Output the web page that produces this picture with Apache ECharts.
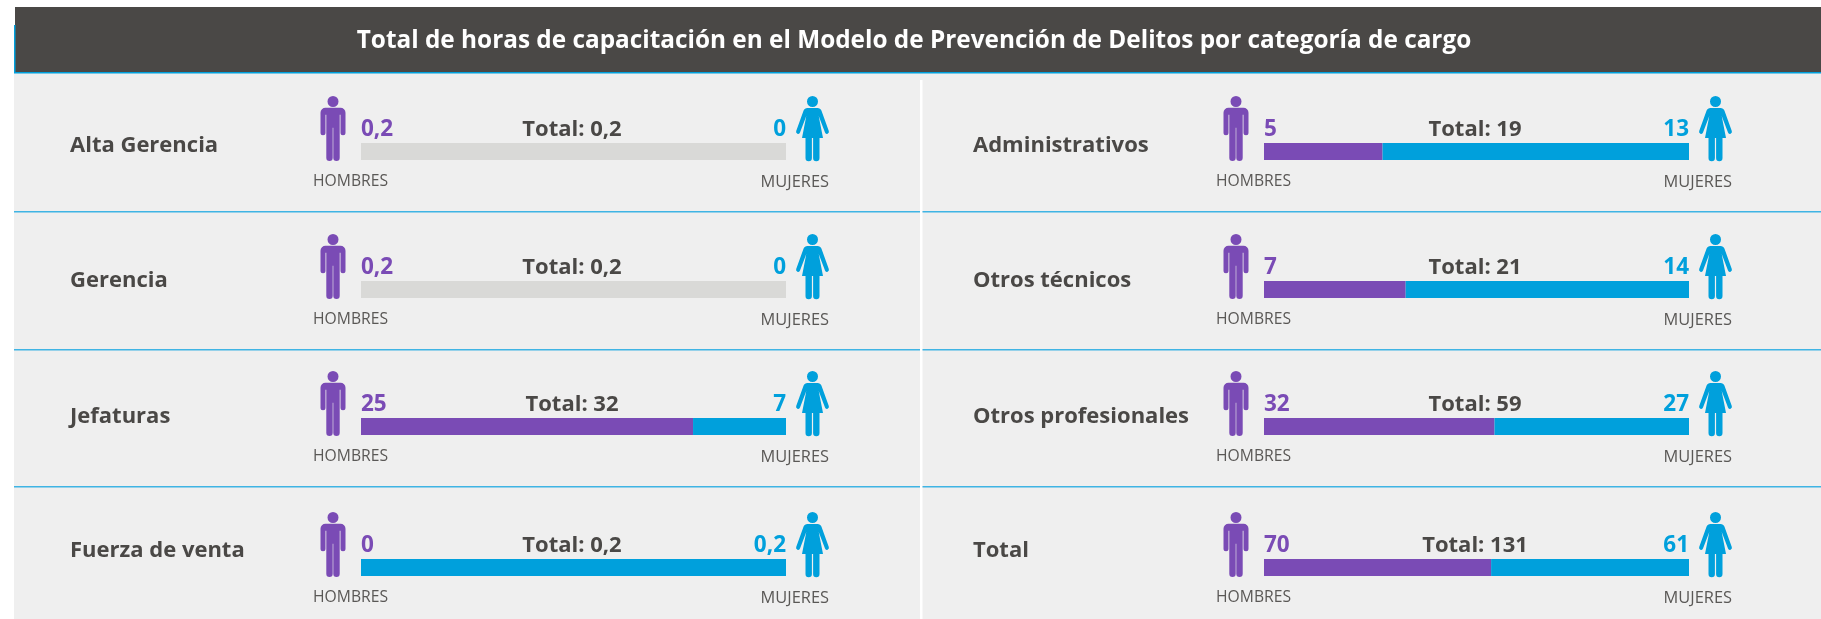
<!DOCTYPE html>
<html>
<head>
<meta charset="utf-8">
<title>Total de horas de capacitación</title>
<style>
  html, body { margin: 0; padding: 0; background: #fff; }
  #main { width: 1821px; height: 619px; }
</style>
<script src="https://cdn.jsdelivr.net/npm/echarts@6/dist/echarts.min.js"></script>
</head>
<body>
<div id="main"></div>
<script>
var titulo = 'Total de horas de capacitación en el Modelo de Prevención de Delitos por categoría de cargo';
var categorias = ['Alta Gerencia', 'Gerencia', 'Jefaturas', 'Fuerza de venta', 'Administrativos', 'Otros técnicos', 'Otros profesionales', 'Total'];
// largo de cada tramo
var hombres = [0.2, 0.2, 25, 0, 5.3, 7, 32, 70];
var mujeres = [0, 0, 7, 0.2, 13.7, 14, 27, 61];
// lo que esta escrito sobre la barra
var etiquetaHombres = ['0,2', '0,2', '25', '0', '5', '7', '32', '70'];
var etiquetaMujeres = ['0', '0', '7', '0,2', '13', '14', '27', '61'];
var etiquetaTotal = ['0,2', '0,2', '32', '0,2', '19', '21', '59', '131'];
// estas filas van en gris en el original
var filasGrises = ['Alta Gerencia', 'Gerencia'];

var MORADO = '#7a4bb5', AZUL = '#00a0dc', GRIS = '#d9d9d7', TEXTO = '#4a4846', LINEA = '#3fb4e4', FONDO = '#efefef';
var FUENTE = '"Open Sans", sans-serif';

var hombrePath = 'M13 0a5.5 5.5 0 1 1 0 11a5.5 5.5 0 1 1 0-11zM5.5 11.7h15a5 5 0 0 1 5 5v20a2.5 2.5 0 0 1-5 0v-18h-.8v43a3.2 3.2 0 0 1-6.4 0v-30h-.6v30a3.2 3.2 0 0 1-6.4 0v-43h-.8v18a2.5 2.5 0 0 1-5 0v-20a5 5 0 0 1 5-5z';
var mujerPath = 'M16.5 0a5.5 5.5 0 1 1 0 11a5.5 5.5 0 1 1 0-11zM11.5 12h10c2 0 3.2 1 3.9 2.6l7.4 20.5a2 2 0 0 1-3.8 1.4l-6.3-16.5l4.3 22h-3.5v20a3.2 3.2 0 0 1-6.4 0v-20h-1.2v20a3.2 3.2 0 0 1-6.4 0v-20h-3.5l4.3-22l-6.3 16.5a2 2 0 0 1-3.8-1.4l7.4-20.5c.7-1.6 1.9-2.6 3.9-2.6z';
echarts.graphic.registerShape('hombre', echarts.graphic.extendPath(hombrePath, {}));
echarts.graphic.registerShape('mujer', echarts.graphic.extendPath(mujerPath, {}));

var filasY = [143, 281, 418, 559];
var nombresY = [146, 281, 417, 551];
var columnasX = [361, 1264];
var ANCHO_BARRA = 425, ALTO_BARRA = 17;

var grids = [], xAxes = [], yAxes = [], series = [];
var graficos = [
  { type: 'rect', silent: true, shape: { x: 14, y: 73, width: 1807, height: 546 }, style: { fill: FONDO } },
  { type: 'rect', silent: true, shape: { x: 920, y: 80, width: 2.5, height: 539 }, style: { fill: '#fff' } },
  { type: 'rect', silent: true, shape: { x: 15, y: 7, width: 1806, height: 66 }, style: { fill: '#4a4846' } },
  { type: 'rect', silent: true, shape: { x: 14, y: 25, width: 1.5, height: 48 }, style: { fill: AZUL } },
  { type: 'rect', silent: true, shape: { x: 14, y: 72, width: 1807, height: 1.5 }, style: { fill: AZUL } },
  { type: 'text', silent: true, x: 914, y: 41, style: { text: titulo, fill: '#fff', font: '700 24.35px ' + FUENTE, textAlign: 'center', textVerticalAlign: 'middle' } }
];
[211, 349, 486].forEach(function (y) {
  graficos.push({ type: 'rect', silent: true, shape: { x: 14, y: y, width: 906, height: 1.5 }, style: { fill: LINEA } });
  graficos.push({ type: 'rect', silent: true, shape: { x: 922.5, y: y, width: 898.5, height: 1.5 }, style: { fill: LINEA } });
});

function texto(x, y, t, color, font, align) {
  graficos.push({ type: 'text', silent: true, x: x, y: y, style: { text: t, fill: color, font: font, textAlign: align, textVerticalAlign: 'middle' } });
}
function icono(forma, x, y, color) {
  graficos.push({ type: forma, silent: true, x: x, y: y, shape: {}, style: { fill: color } });
}

categorias.forEach(function (nombre, i) {
  var col = i < 4 ? 0 : 1;
  var fila = i % 4;
  var x = columnasX[col], y = filasY[fila];
  var gris = filasGrises.indexOf(nombre) >= 0;

  grids.push({ left: x, top: y, width: ANCHO_BARRA, height: ALTO_BARRA });
  xAxes.push({ gridIndex: i, type: 'value', min: 0, max: hombres[i] + mujeres[i], show: false });
  yAxes.push({ gridIndex: i, type: 'category', data: [nombre], show: false });
  series.push({
    name: 'Hombres', type: 'bar', stack: 'fila' + i, xAxisIndex: i, yAxisIndex: i, barWidth: ALTO_BARRA, silent: true,
    data: [{ value: hombres[i], itemStyle: { color: gris ? GRIS : MORADO } }]
  });
  series.push({
    name: 'Mujeres', type: 'bar', stack: 'fila' + i, xAxisIndex: i, yAxisIndex: i, barWidth: ALTO_BARRA, silent: true,
    data: [{ value: mujeres[i], itemStyle: { color: gris ? GRIS : AZUL } }]
  });

  texto(x - 291, nombresY[fila], nombre, TEXTO, '700 22px ' + FUENTE, 'left');
  texto(x, y - 13, etiquetaHombres[i], MORADO, '700 22.5px ' + FUENTE, 'left');
  texto(x + ANCHO_BARRA, y - 13, etiquetaMujeres[i], AZUL, '700 22.5px ' + FUENTE, 'right');
  texto(x + 211, y - 13, 'Total: ' + etiquetaTotal[i], TEXTO, '700 22px ' + FUENTE, 'center');
  texto(x - 48, y + 39, 'HOMBRES', '#5a5856', '400 15.7px ' + FUENTE, 'left');
  texto(x + ANCHO_BARRA + 43, y + 39, 'MUJERES', '#5a5856', '400 16.4px ' + FUENTE, 'right');
  icono('hombre', x - 41, y - 47, MORADO);
  icono('mujer', x + ANCHO_BARRA + 10, y - 47, AZUL);
});

var chart = echarts.init(document.getElementById('main'));
chart.setOption({
  animation: false,
  backgroundColor: '#fff',
  grid: grids,
  xAxis: xAxes,
  yAxis: yAxes,
  series: series,
  graphic: { elements: graficos }
});
</script>
</body>
</html>
